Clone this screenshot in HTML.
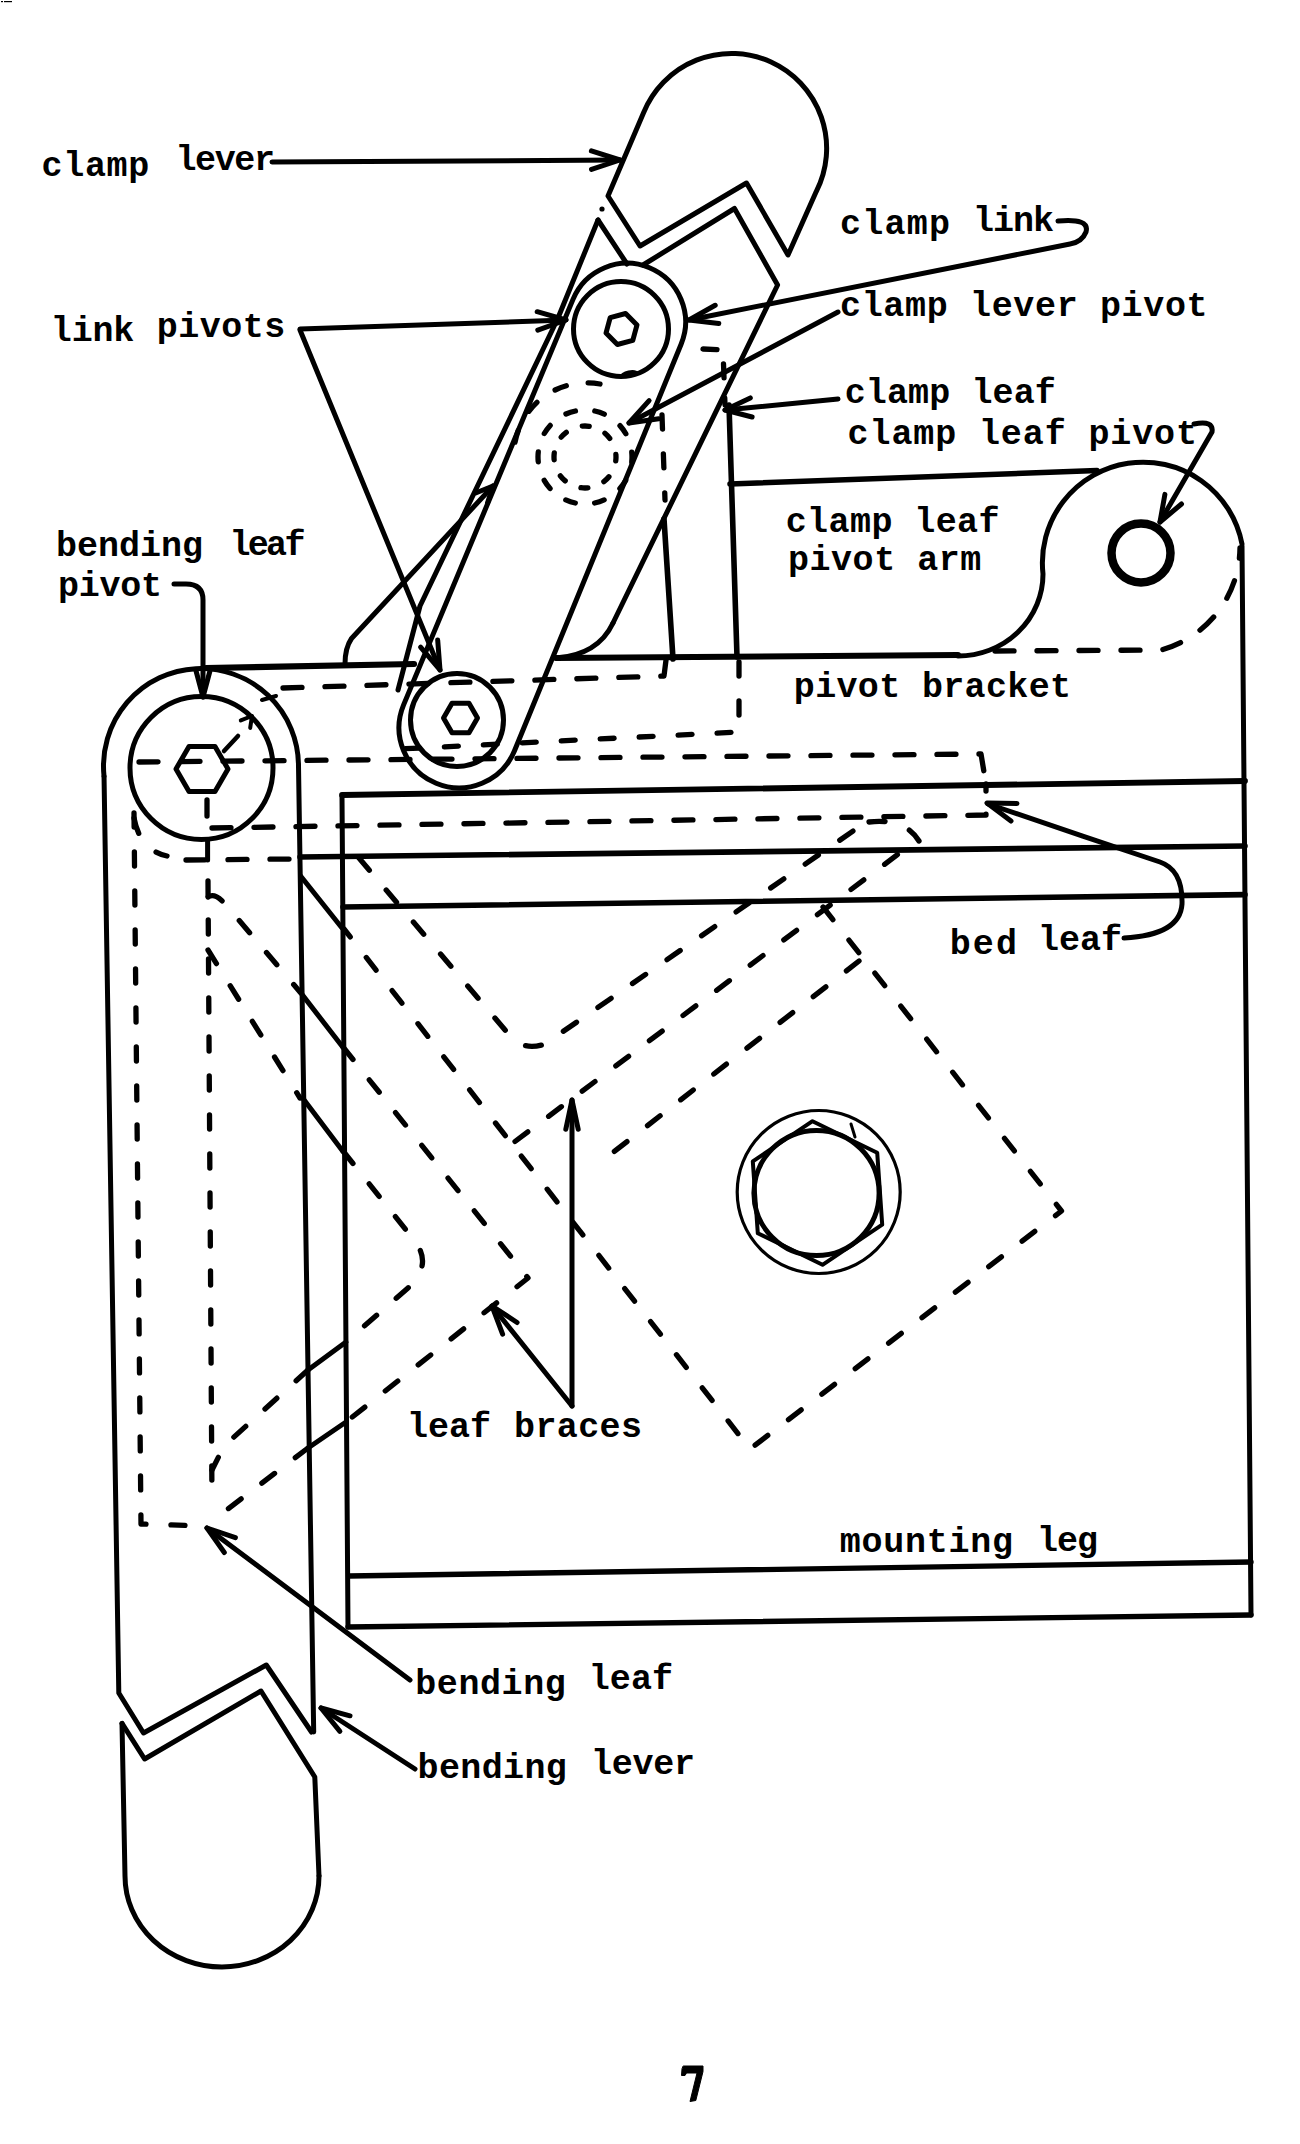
<!DOCTYPE html>
<html><head><meta charset="utf-8"><style>
html,body{margin:0;padding:0;background:#fff;width:1300px;height:2144px;overflow:hidden}
svg{display:block}
text{font-family:"Liberation Mono",monospace;font-weight:bold;fill:#000}
</style></head><body>
<svg width="1300" height="2144" viewBox="0 0 1300 2144">
<rect width="1300" height="2144" fill="#fff"/>
<rect x="1" y="1" width="2" height="1.2" fill="#000"/><rect x="4" y="1" width="8" height="1.2" fill="#000"/>
<g fill="none" stroke="#000" stroke-linecap="round" stroke-linejoin="round">
<path d="M 608,196 L 643.55,112.83 A 95 95 0 1 1 816.25,191.6 L 788,255 L 746.5,183 L 640,246 Z" stroke-width="5.0" />
<path d="M 598,220 L 627,264" stroke-width="5.0" />
<path d="M 643,265 L 734.5,208.5 L 777.6,285 L 613,623" stroke-width="5.0" />
<path d="M 613,623 Q 598,655 556,658" stroke-width="5.0" />
<path d="M 598,220 L 558,318 L 420,606 L 398,690" stroke-width="5.0" />
<path d="M 403.6,704.9 L 573.0,299.4 A 58.5 58.5 0 0 1 681.1,344.2 L 514.5,750.8 A 60 60 0 0 1 403.6,704.9" stroke-width="5.0" />
<circle cx="621" cy="329" r="47.5" stroke-width="5.0"/>
<path d="M 625.6,313.5 L 637.0,324.9 L 632.8,340.3 L 617.4,344.5 L 606.0,333.1 L 610.2,317.7 Z" stroke-width="5.0"/>
<circle cx="457" cy="720" r="46.5" stroke-width="5.0"/>
<path d="M 477.5,718.0 L 469.0,732.7 L 452.0,732.7 L 443.5,718.0 L 452.0,703.3 L 469.0,703.3 Z" stroke-width="5.0"/>
<path d="M 493,486 L 351.5,638.5 Q 345,648 345,664" stroke-width="5.0" />
<path d="M 476.3,492.8 L 493,486 L 487.5,503.1" stroke-width="5.0"/>
<path d="M 272,162 L 620,160" stroke-width="5.0" />
<path d="M 591.4,150.9 L 620,160 L 591.5,169.4" stroke-width="5.0"/>
<path d="M 300,329 L 566,320" stroke-width="5.0" />
<path d="M 537.2,311.7 L 566,320 L 537.8,330.2" stroke-width="5.0"/>
<path d="M 300,330 L 440,670" stroke-width="5.0" />
<path d="M 437.7,640.1 L 440,670 L 420.6,647.1" stroke-width="5.0"/>
<path d="M 1058,221 Q 1090,218 1086,232 Q 1082,242 1070,244 L 689,320" stroke-width="5.0" />
<path d="M 718.8,323.5 L 689,320 L 715.2,305.3" stroke-width="5.0"/>
<path d="M 838,312 L 629,423" stroke-width="5.0" />
<path d="M 658.7,418.8 L 629,423 L 649.1,400.7" stroke-width="5.0"/>
<path d="M 838,399 L 725,410" stroke-width="5.0" />
<path d="M 752.1,417.0 L 725,410 L 750.3,397.9" stroke-width="5.0"/>
<path d="M 1194,424 Q 1214,420 1212,432 L 1160,522" stroke-width="5.0" />
<path d="M 1181.5,504.0 L 1160,522 L 1164.9,494.4" stroke-width="5.0"/>
<path d="M 203,697 L 203,600 Q 203,584 186,584 L 174,584" stroke-width="5.0" />
<path d="M 210.2,670.0 L 203,697 L 195.8,670.0" stroke-width="5.0"/>
<path d="M 729,405 L 737,657" stroke-width="5.6" />
<path d="M 664,519 L 673,659" stroke-width="5.6" />
<path d="M 730,484 L 1097,470.5" stroke-width="5.5" />
<path d="M 958,656 A 85 82 0 0 0 1043,574 A 100.7 100.7 0 0 1 1242,544" stroke-width="5.0" />
<circle cx="1141" cy="553" r="29.5" stroke-width="8.5"/>
<path d="M 995,651 L 1161,650 A 107 107 0 0 0 1240,548" stroke-width="5.3" stroke-dasharray="19 23" stroke-dashoffset="0"/>
<path d="M 206,668 L 414,664" stroke-width="6.2" />
<path d="M 556,658 L 958,655" stroke-width="6" />
<path d="M 1242,546 L 1251,1615" stroke-width="5.0" />
<path d="M 283,688 L 664,676 L 666,660" stroke-width="5.3" stroke-dasharray="19 23" stroke-dashoffset="0"/>
<path d="M 739,662 L 739,732 L 400,749" stroke-width="5.3" stroke-dasharray="14 25" stroke-dashoffset="0"/>
<path d="M 662,415 L 665,500" stroke-width="5.3" stroke-dasharray="14 25" stroke-dashoffset="0"/>
<path d="M 703,349 L 723,350 L 725,405" stroke-width="5.3" stroke-dasharray="14 20" stroke-dashoffset="0"/>
<path d="M 139,762 L 981,754 L 984,772" stroke-width="5.3" stroke-dasharray="19 23" stroke-dashoffset="0"/>
<path d="M 342,795 L 1245,781" stroke-width="5.8" />
<path d="M 342,796 L 348,1627" stroke-width="5.0" />
<path d="M 212,828 L 986,815 L 986,784" stroke-width="5.3" stroke-dasharray="19 23" stroke-dashoffset="0"/>
<path d="M 300,857 L 1245,846" stroke-width="5.6" />
<path d="M 343,907 L 1245,894.6" stroke-width="5.6" />
<path d="M 349,1576 L 1251,1562" stroke-width="5.4" />
<path d="M 348,1627 L 1251,1615" stroke-width="5.4" />
<path d="M 104.03,776.2 A 97.5 97.5 0 1 1 298.5,766" stroke-width="5.0" />
<path d="M 104.03,776.2 L 118.8,1693 L 143.5,1733 L 266.3,1665 L 311.5,1732" stroke-width="5.0" />
<path d="M 298.5,766 L 313.7,1732" stroke-width="5.0" />
<path d="M 122,1723.4 L 144.6,1759 L 261,1691 L 314.8,1777 L 319,1876" stroke-width="5.0" />
<path d="M 319,1876 A 96 90 0 0 1 125,1876 L 122,1723.4" stroke-width="5.0" />
<circle cx="201.5" cy="768" r="71.5" stroke-width="5.0"/>
<path d="M 228.0,769.0 L 215.0,791.5 L 189.0,791.5 L 176.0,769.0 L 189.0,746.5 L 215.0,746.5 Z" stroke-width="5.0"/>
<path d="M 207,800 L 207,818" stroke-width="5.3" stroke-dasharray="16 26" stroke-dashoffset="0"/>
<path d="M 207.6,841 L 207.6,860" stroke-width="5.0" />
<path d="M 186,860 L 292,859" stroke-width="5.3" stroke-dasharray="19 23" stroke-dashoffset="0"/>
<path d="M 134,813 L 141,1524 L 207,1526" stroke-width="5.3" stroke-dasharray="14 25" stroke-dashoffset="0"/>
<path d="M 208,881 L 212,1502" stroke-width="5.3" stroke-dasharray="14 25" stroke-dashoffset="0"/>
<path d="M 134,818 Q 140,850 167,856" stroke-width="5.3" stroke-dasharray="16 26" stroke-dashoffset="0"/>
<path d="M 300.6,876 L 342,928" stroke-width="5.0" />
<path d="M 300.6,992.6 L 342.5,1046.8" stroke-width="5.0" />
<path d="M 303,1098.5 L 343,1151.4" stroke-width="5.0" />
<path d="M 308,1370 L 346,1342" stroke-width="5.0" />
<path d="M 308,1448 L 346,1422" stroke-width="5.0" />
<path d="M 359,858 L 511,1037 Q 524,1051 545,1044 L 869,820" stroke-width="5.3" stroke-dasharray="16 26" stroke-dashoffset="0"/>
<path d="M 869,822 Q 905,818 919,841" stroke-width="5.3" stroke-dasharray="16 26" stroke-dashoffset="0"/>
<path d="M 515,1141.5 L 915,841.5" stroke-width="5.3" stroke-dasharray="16 26" stroke-dashoffset="0"/>
<path d="M 823,907 L 1061.5,1211 L 750,1449 L 344,929" stroke-width="5.3" stroke-dasharray="16 26" stroke-dashoffset="0"/>
<path d="M 859,961 L 602,1161" stroke-width="5.3" stroke-dasharray="16 26" stroke-dashoffset="0"/>
<path d="M 208,897 Q 215,892 226,905 L 300,992" stroke-width="5.3" stroke-dasharray="16 26" stroke-dashoffset="0"/>
<path d="M 343,1047 L 528,1278 L 346,1422" stroke-width="5.3" stroke-dasharray="16 26" stroke-dashoffset="0"/>
<path d="M 308,1448 L 216,1518" stroke-width="5.3" stroke-dasharray="16 26" stroke-dashoffset="0"/>
<path d="M 208,950 L 300,1098" stroke-width="5.3" stroke-dasharray="16 26" stroke-dashoffset="0"/>
<path d="M 343,1151 L 414,1240 C 428,1258 424,1272 408,1288 L 346,1342" stroke-width="5.3" stroke-dasharray="16 26" stroke-dashoffset="0"/>
<path d="M 308,1370 L 224,1446 L 212,1470" stroke-width="5.3" stroke-dasharray="16 26" stroke-dashoffset="0"/>
<path d="M 572,1406 L 572,1100" stroke-width="5.0" />
<path d="M 565.8,1129.3 L 572,1100 L 578.2,1129.3" stroke-width="5.0"/>
<path d="M 572,1406 L 492,1306" stroke-width="5.0" />
<path d="M 502.6,1334.1 L 492,1306 L 517.1,1322.5" stroke-width="5.0"/>
<path d="M 410,1680 L 207,1528" stroke-width="5.0" />
<path d="M 224.3,1552.5 L 207,1528 L 235.4,1537.7" stroke-width="5.0"/>
<path d="M 415,1769 L 321,1708" stroke-width="5.0" />
<path d="M 339.9,1731.3 L 321,1708 L 350.0,1715.8" stroke-width="5.0"/>
<path d="M 1124,938 Q 1180,935 1182,904 Q 1183,870 1160,862 C 1100,842 1050,825 988,804" stroke-width="5.0" />
<path d="M 1011.0,821.0 L 987,803 L 1017.0,803.5" stroke-width="5.0"/>
<circle cx="818.7" cy="1192" r="81.5" stroke-width="3.2"/>
<circle cx="816.5" cy="1193" r="62.6" stroke-width="5"/>
<path d="M 812.5,1121.2 L 877.2,1152.7 L 882.2,1224.6 L 822.5,1264.8 L 757.8,1233.3 L 752.8,1161.4 Z" stroke-width="4"/>
<path d="M 851,1124 L 855,1137" stroke-width="3" />
<circle cx="585" cy="457" r="47" stroke-width="5.3" stroke-dasharray="10 19.5" stroke-dashoffset="5"/>
<circle cx="585" cy="457" r="31" stroke-width="5.3" stroke-dasharray="7 17.35" stroke-dashoffset="3"/>
<path d="M 600,384 A 73 73 0 0 0 514,462" stroke-width="5.3" stroke-dasharray="12 22" stroke-dashoffset="0"/>
<path d="M 224,751 L 238,736" stroke-width="4.5" />
<path d="M 240.8,720.4 L 252,716 L 250.2,727.9" stroke-width="4"/>
<path d="M 262,700 L 276,696" stroke-width="4" />
<circle cx="602" cy="209" r="2.6" fill="#000" stroke="none"/>
<ellipse cx="629" cy="374" rx="9" ry="3.5" transform="rotate(-12 629 374)" fill="#000" stroke="none"/>
<path d="M 683.5,2066 L 703,2066 L 703,2071.5 L 695.8,2100.5 L 690,2101.5 L 697,2073 L 686.5,2073 L 685,2075.5 L 681.5,2075.5 L 682,2069 Z" fill="#000" stroke="#000" stroke-width="1"/>
</g>
<g>
<text x="41.5" y="175.5" font-size="35" letter-spacing="0.70">clamp</text>
<text x="175.5" y="170.0" font-size="35" letter-spacing="-1.38">lever</text>
<text x="50.8" y="341.0" font-size="35" letter-spacing="-0.17">link</text>
<text x="156.8" y="337.3" font-size="35" letter-spacing="0.50">pivots</text>
<text x="840.0" y="234.0" font-size="35" letter-spacing="1.25">clamp</text>
<text x="973.0" y="231.0" font-size="35" letter-spacing="-1.00">link</text>
<text x="840.0" y="316.0" font-size="35" letter-spacing="0.66">clamp lever pivot</text>
<text x="844.7" y="403.0" font-size="35" letter-spacing="0.12">clamp leaf</text>
<text x="847.6" y="444.0" font-size="35" letter-spacing="0.89">clamp leaf pivot</text>
<text x="785.7" y="532.3" font-size="35" letter-spacing="0.42">clamp leaf</text>
<text x="788.0" y="570.0" font-size="35" letter-spacing="0.53">pivot arm</text>
<text x="793.8" y="697.3" font-size="35" letter-spacing="0.35">pivot bracket</text>
<text x="56.0" y="556.0" font-size="35" letter-spacing="0.00">bending</text>
<text x="229.5" y="555.0" font-size="35" letter-spacing="-2.70">leaf</text>
<text x="58.0" y="595.8" font-size="35" letter-spacing="-0.25">pivot</text>
<text x="949.7" y="954.0" font-size="35" letter-spacing="2.15">bed</text>
<text x="1038.0" y="950.0" font-size="35" letter-spacing="0.00">leaf</text>
<text x="407.0" y="1437.0" font-size="35" letter-spacing="0.00">leaf</text>
<text x="514.0" y="1437.0" font-size="35" letter-spacing="0.40">braces</text>
<text x="839.8" y="1552.0" font-size="35" letter-spacing="0.74">mounting</text>
<text x="1037.0" y="1551.0" font-size="35" letter-spacing="-1.00">leg</text>
<text x="415.3" y="1693.8" font-size="35" letter-spacing="0.57">bending</text>
<text x="588.7" y="1689.2" font-size="35" letter-spacing="0.10">leaf</text>
<text x="417.6" y="1778.0" font-size="35" letter-spacing="0.37">bending</text>
<text x="591.0" y="1773.5" font-size="35" letter-spacing="-0.25">lever</text>
</g>
</svg>
</body></html>
